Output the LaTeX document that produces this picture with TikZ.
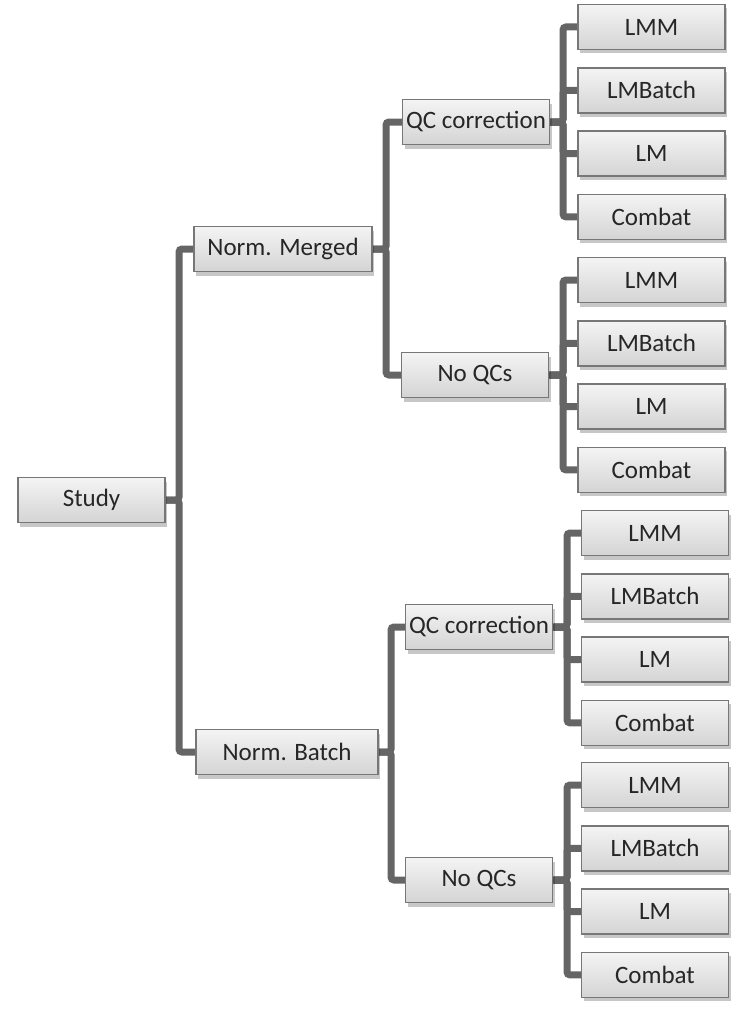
\documentclass[tikz,border=0pt]{standalone}
\usepackage{fontspec}
\setmainfont{Carlito}
\usetikzlibrary{shadows,backgrounds}
\definecolor{boxborder}{HTML}{777777}
\definecolor{boxtop}{HTML}{F4F4F4}
\definecolor{boxbot}{HTML}{D4D4D4}
\definecolor{textcol}{HTML}{262626}
\definecolor{conncol}{HTML}{656565}
\begin{document}
\begin{tikzpicture}[x=1pt,y=-1pt,
  box/.style={draw=boxborder, line width=1.5pt, top color=boxtop, bottom color=boxbot,
    minimum width=147pt, minimum height=45pt, inner sep=0pt,
    font=\fontsize{25}{29}\selectfont, text=textcol,
    drop shadow={shadow xshift=2pt, shadow yshift=-4pt, opacity=0.22, fill=black}},
  conn/.style={draw=conncol, line width=7pt, rounded corners=3pt}]
\useasboundingbox (0,0) rectangle (743,1025);

\node[box] (study) at (91.5,500) {Study};
\node[box, minimum width=178pt] (nm) at (283,249) {Norm. Merged};
\node[box, minimum width=182pt] (nb) at (287,752) {Norm. Batch};
\node[box] (qc1) at (476,122) {QC correction};
\node[box] (nq1) at (475,375) {No QCs};
\node[box] (qc2) at (479,627) {QC correction};
\node[box] (nq2) at (479,880) {No QCs};

\coordinate (bus0) at (179,0);
\coordinate (busA) at (386,0);
\coordinate (busB) at (391,0);

\begin{scope}[on background layer]
  \draw[conn] (study.east) -- (study.east -| bus0) |- (nm.west);
  \draw[conn] (study.east) -- (study.east -| bus0) |- (nb.west);
  \draw[conn] (nm.east) -- (nm.east -| busA) |- (qc1.west);
  \draw[conn] (nm.east) -- (nm.east -| busA) |- (nq1.west);
  \draw[conn] (nb.east) -- (nb.east -| busB) |- (qc2.west);
  \draw[conn] (nb.east) -- (nb.east -| busB) |- (nq2.west);
\end{scope}

\foreach \p/\lx/\by/\bx in {qc1/651.5/27/563, nq1/651.5/280/563, qc2/655/533/567, nq2/655/785/567}{
  \coordinate (bus-\p) at (\bx,0);
  \foreach \t [count=\i] in {LMM,LMBatch,LM,Combat}{
    \node[box] (\p-\i) at (\lx,{\by+63.3*(\i-1)}) {\t};
    \begin{scope}[on background layer]
      \draw[conn] (\p.east) -- (\p.east -| bus-\p) |- (\p-\i.west);
    \end{scope}
  }
}
\end{tikzpicture}
\end{document}
